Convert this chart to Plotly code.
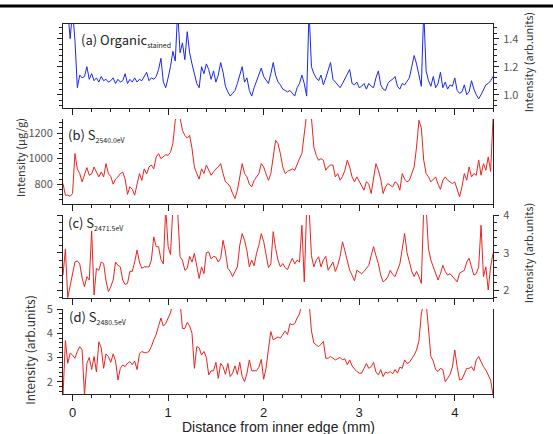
import numpy as np
import plotly.graph_objects as go

# sampling grid: distance from inner edge (mm), step 0.025 mm
distance = np.round(-0.1 + 0.025 * np.arange(181), 4)

organic_stained = [
    1.6, 1.6, 1.6, 1.40, 1.6, 1.39, 1.05, 1.14, 1.12, 1.13,
    1.20, 1.11, 1.15, 1.10, 1.12, 1.09, 1.13, 1.10, 1.11, 1.09,
    1.10, 1.12, 1.08, 1.11, 1.09, 1.10, 1.15, 1.08, 1.11, 1.09,
    1.12, 1.09, 1.11, 1.10, 1.13, 1.16, 1.10, 1.12, 1.11, 1.13,
    1.18, 1.26, 1.09, 1.05, 1.12, 1.20, 1.31, 1.24, 1.6, 1.30,
    1.37, 1.25, 1.45, 1.30, 1.22, 1.14, 1.08, 1.05, 1.20, 1.15,
    1.22, 1.18, 1.11, 1.17, 1.09, 1.14, 1.23, 1.16, 1.06, 1.02,
    0.99, 1.01, 1.03, 1.08, 1.15, 1.20, 1.09, 1.12, 1.03, 0.99,
    1.05, 1.10, 1.14, 1.19, 1.13, 1.10, 1.08, 1.15, 1.23, 1.14,
    1.09, 1.07, 1.04, 1.03, 1.02, 1.03, 1.01, 0.99, 1.05, 1.08,
    1.14, 1.08, 0.99, 1.6, 1.20, 1.15, 1.12, 1.10, 1.14, 1.07,
    1.12, 1.18, 1.23, 1.11, 1.09, 1.07, 1.05, 1.08, 1.11, 1.14,
    1.18, 1.08, 1.07, 1.09, 1.05, 1.06, 1.08, 1.04, 1.08, 1.06,
    1.05, 1.12, 1.17, 1.07, 1.04, 1.03, 1.08, 1.10, 1.11, 1.13,
    1.06, 1.04, 1.08, 1.07, 1.10, 1.12, 1.20, 1.28, 1.22, 1.14,
    1.06, 1.6, 1.17, 1.10, 1.06, 1.13, 1.05, 1.08, 1.16, 1.05,
    1.09, 1.04, 1.07, 1.06, 1.12, 1.03, 1.01, 1.02, 1.07, 1.00,
    1.02, 1.10, 1.04, 1.00, 0.97, 1.00, 1.04, 1.07, 1.08, 1.10, 1.13,
]

sulfur_2540 = [
    805, 714, 714, 705, 727, 1040, 920, 883, 818, 880,
    930, 870, 880, 935, 895, 857, 895, 857, 961, 883,
    860, 800, 840, 857, 883, 895, 840, 720, 780, 760,
    714, 790, 883, 830, 920, 880, 935, 950, 920, 1013,
    1039, 1000, 1013, 1030, 1026, 1050, 1120, 1300, 1350, 1320,
    1221, 1182, 1160, 1182, 1080, 935, 883, 840, 920, 883,
    950, 909, 870, 895, 920, 935, 961, 883, 818, 805,
    779, 727, 688, 753, 857, 961, 883, 857, 800, 779,
    830, 860, 883, 961, 935, 880, 830, 883, 1000, 1143,
    1117, 1039, 935, 883, 900, 909, 920, 909, 960, 1000,
    1040, 1221, 1350, 1350, 1320, 1090, 1026, 987, 1000, 987,
    909, 935, 950, 950, 857, 883, 831, 860, 909, 987,
    935, 857, 818, 857, 818, 790, 753, 820, 800, 727,
    860, 961, 909, 840, 727, 779, 805, 790, 779, 818,
    805, 753, 883, 840, 818, 831, 883, 935, 1091, 1300,
    1240, 987, 883, 857, 818, 840, 857, 800, 760, 830,
    857, 831, 818, 805, 818, 753, 701, 779, 883, 831,
    935, 857, 883, 870, 990, 870, 961, 909, 1013, 900, 1310,
]

sulfur_2471 = [
    2.40, 3.10, 1.80, 2.10, 2.44, 2.75, 2.78, 2.70, 2.32, 2.09,
    2.36, 2.27, 3.58, 1.87, 2.58, 2.53, 2.75, 2.71, 2.25, 1.96,
    2.09, 2.27, 2.75, 2.66, 2.62, 2.27, 2.15, 2.18, 2.50, 2.50,
    2.75, 3.07, 2.75, 2.58, 2.62, 2.62, 2.62, 2.80, 3.42, 3.16,
    3.16, 2.82, 2.70, 4.20, 3.16, 2.95, 4.20, 4.20, 4.10, 2.89,
    2.80, 2.53, 2.58, 2.90, 2.75, 2.98, 2.62, 2.31, 2.62, 2.44,
    3.00, 3.02, 2.83, 2.90, 2.88, 2.75, 2.85, 3.33, 3.02, 2.58,
    2.50, 2.36, 2.50, 2.62, 3.20, 3.51, 3.33, 3.05, 2.62, 2.80,
    2.65, 2.98, 3.20, 3.51, 3.30, 2.89, 2.60, 2.70, 3.56, 3.11,
    2.80, 2.62, 2.71, 2.60, 2.55, 2.71, 2.85, 2.70, 2.80, 2.75,
    3.73, 2.22, 4.20, 4.20, 2.92, 2.62, 2.80, 2.89, 2.62, 2.80,
    2.90, 2.53, 2.66, 2.75, 2.50, 2.66, 2.90, 3.29, 3.05, 2.75,
    2.53, 2.40, 2.25, 2.53, 2.48, 2.44, 2.50, 2.58, 2.66, 2.92,
    3.16, 2.92, 2.71, 2.40, 2.22, 2.27, 2.36, 2.53, 2.42, 2.36,
    2.53, 2.70, 3.10, 3.51, 3.00, 2.75, 2.50, 2.36, 2.50, 2.36,
    2.18, 4.20, 4.20, 3.10, 2.80, 2.62, 2.44, 2.27, 2.44, 2.66,
    2.50, 2.40, 2.44, 2.36, 2.30, 2.22, 2.45, 2.50, 2.53, 2.75,
    2.85, 2.62, 2.40, 2.44, 2.62, 3.73, 2.36, 2.62, 2.00, 2.62, 2.98,
]

sulfur_2480 = [
    1.40, 3.70, 2.76, 3.18, 3.10, 2.97, 3.25, 3.45, 3.31, 1.45,
    2.76, 3.00, 2.50, 3.04, 2.40, 3.65, 3.40, 2.55, 3.15, 3.04,
    2.80, 3.15, 2.85, 2.07, 2.55, 2.69, 2.62, 2.76, 2.83, 2.70,
    2.85, 2.50, 3.15, 3.25, 3.20, 3.20, 3.25, 3.45, 3.73, 3.95,
    4.30, 4.63, 4.30, 4.40, 4.63, 4.85, 5.30, 5.30, 5.30, 5.30,
    4.20, 4.20, 4.45, 4.30, 4.00, 2.55, 3.45, 3.40, 3.10, 3.25,
    3.00, 2.28, 2.45, 2.45, 2.80, 2.14, 2.76, 2.62, 2.30, 2.76,
    2.21, 2.35, 2.65, 2.30, 2.80, 2.21, 2.00, 2.35, 2.90, 2.45,
    2.45, 2.45, 2.60, 2.92, 2.10, 2.55, 3.35, 4.07, 3.73, 3.80,
    3.85, 3.80, 3.95, 4.10, 3.95, 4.40, 4.35, 4.40, 4.63, 4.80,
    5.30, 5.30, 5.30, 5.30, 4.10, 3.60, 3.52, 3.45, 3.55, 3.66,
    2.97, 2.97, 3.04, 2.95, 2.90, 2.95, 3.00, 2.90, 2.95, 2.70,
    2.90, 2.65, 2.52, 2.42, 2.35, 2.35, 2.55, 2.75, 2.55, 2.62,
    2.80, 2.40, 2.28, 2.50, 2.21, 2.40, 2.35, 2.42, 2.32, 2.50,
    2.35, 2.60, 2.55, 2.90, 2.75, 2.80, 2.95, 3.10, 3.31, 3.70,
    4.80, 5.30, 5.30, 4.20, 3.04, 2.85, 2.50, 2.42, 2.55, 2.50,
    2.00, 2.14, 2.30, 2.60, 3.31, 2.62, 2.07, 2.10, 2.35, 2.55,
    2.55, 2.62, 2.45, 2.90, 3.04, 2.80, 2.62, 2.48, 2.30, 2.07, 1.45,
]

BLUE = "rgb(25,40,235)"
RED = "rgb(235,35,30)"
FONT = "Noto Sans CJK JP, Liberation Sans, sans-serif"
TICKFONT = "Liberation Sans, Arial, sans-serif"
AXC = "#222"

fig = go.Figure()
fig.add_trace(go.Scatter(x=distance, y=organic_stained, mode="lines",
                         line=dict(color=BLUE, width=1), xaxis="x", yaxis="y"))
fig.add_trace(go.Scatter(x=distance, y=sulfur_2540, mode="lines",
                         line=dict(color=RED, width=1), xaxis="x2", yaxis="y2"))
fig.add_trace(go.Scatter(x=distance, y=sulfur_2471, mode="lines",
                         line=dict(color=RED, width=1), xaxis="x3", yaxis="y3"))
fig.add_trace(go.Scatter(x=distance, y=sulfur_2480, mode="lines",
                         line=dict(color=RED, width=1), xaxis="x4", yaxis="y4"))


def xax(anchor, labels=False, mirror=False):
    d = dict(anchor=anchor, domain=[0, 1], range=[-0.1, 4.4], tick0=0, dtick=1,
             ticks="outside", ticklen=6, tickwidth=1, tickcolor=AXC,
             minor=dict(dtick=0.2, ticklen=3, ticks="outside", tickcolor=AXC),
             showline=True, linecolor=AXC, linewidth=1, mirror=mirror,
             showgrid=False, zeroline=False, showticklabels=labels,
             tickfont=dict(size=13, color="#222", family=TICKFONT))
    return d


def yax(anchor, domain, rng, dtick, minor, side, mirror, fmt=None):
    d = dict(anchor=anchor, domain=domain, range=rng, dtick=dtick, tick0=0,
             side=side, mirror=mirror, ticks="outside", ticklen=5, tickwidth=1,
             tickcolor=AXC, minor=dict(dtick=minor, ticklen=3, ticks="outside", tickcolor=AXC),
             showline=True, linecolor=AXC, linewidth=1, showgrid=False, zeroline=False,
             tickfont=dict(size=11, color="#555", family=FONT), ticklabelstandoff=2)
    if fmt:
        d["tickformat"] = fmt
    return d


fig.update_layout(
    width=553, height=434,
    margin=dict(l=63, r=60, t=24, b=40),
    paper_bgcolor="white", plot_bgcolor="white",
    showlegend=False,
    font=dict(family=FONT, color="#222"),
    xaxis=xax("y", mirror=True),
    xaxis2=xax("y2"),
    xaxis3=xax("y3"),
    xaxis4=xax("y4", labels=True),
    yaxis=yax("x", [0.773, 1.0], [0.905, 1.505], 0.2, 0.04, "right", "ticks", ".1f"),
    yaxis2=yax("x2", [0.5135, 0.7432], [645, 1310], 200, 40, "left", True),
    yaxis3=yax("x3", [0.2595, 0.4838], [1.79, 4.005], 1, 0.2, "right", "ticks"),
    yaxis4=yax("x4", [0, 0.2297], [1.49, 5.005], 1, 0.2, "left", True),
)

ann = []
def label(text, x, y):
    ann.append(dict(text=text, x=x, y=y, xref="paper", yref="paper", showarrow=False,
                    xanchor="left", yanchor="middle", font=dict(size=13, color="#222", family=FONT)))

label("(a) Organic<sub><span style='font-size:7px'>stained</span></sub>", 0.037, 0.958)
label("(b) S<sub><span style='font-size:7px'>2540.0eV</span></sub>", 0.007, 0.70)
label("(c) S<sub><span style='font-size:7px'>2471.5eV</span></sub>", 0.007, 0.463)
label("(d) S<sub><span style='font-size:7px'>2480.5eV</span></sub>", 0.009, 0.207)

def ytitle(text, x, y, size=11):
    ann.append(dict(text=text, x=x, y=y, xref="paper", yref="paper", showarrow=False,
                    textangle=-90, xanchor="center", yanchor="middle",
                    font=dict(size=size, color="#333", family=FONT)))

ytitle("Intensity (arb.units)", 1.082, 0.897)
ytitle("Intensity (μg/g)", -0.100, 0.638)
ytitle("Intensity (arb.units)", 1.082, 0.381)
ytitle("Intensity (arb.units)", -0.077, 0.119, 12)

# x-axis title as an annotation so it stays inside the page
ann.append(dict(text="Distance from inner edge (mm)", x=0.5, y=-0.0885,
                xref="paper", yref="paper", showarrow=False,
                xanchor="center", yanchor="middle",
                font=dict(size=14, color="#222", family=TICKFONT)))

fig.update_layout(annotations=ann)

fig.add_shape(type="line", xref="paper", yref="paper", x0=-0.16, x1=1.16,
              y0=1.0486, y1=1.0486, line=dict(color="black", width=3))

# remove the browser's default page margin so the figure sits at the window origin
fig.write_html("out.html", config={"displayModeBar": False},
               post_script="document.body.style.margin='0';document.body.style.padding='0';")
